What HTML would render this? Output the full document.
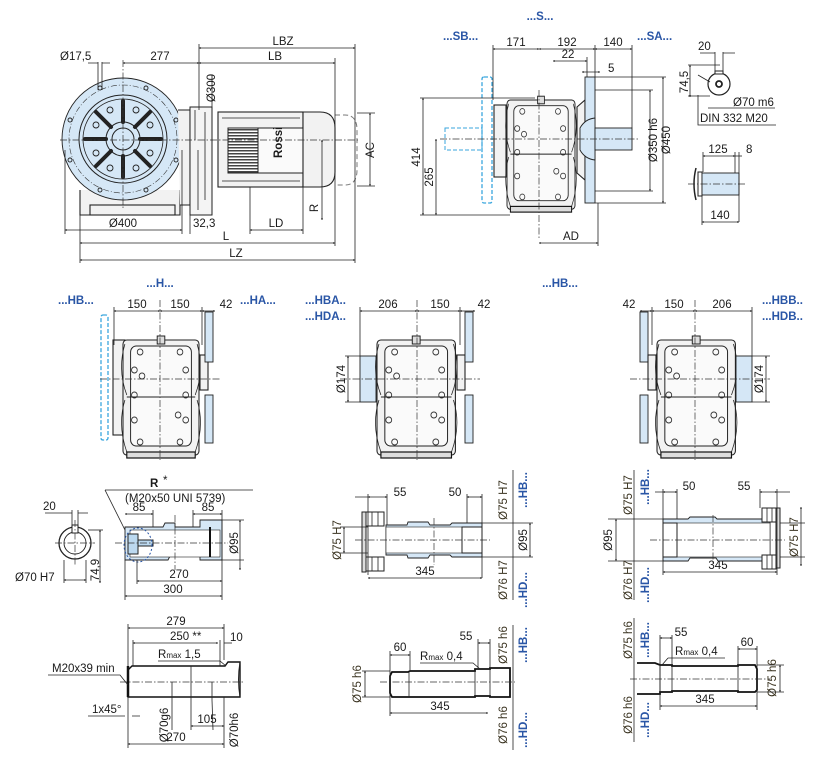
<!DOCTYPE html>
<html><head><meta charset="utf-8"><style>
html,body{margin:0;padding:0;background:#fff}
svg{display:block}
text{font-family:"Liberation Sans",sans-serif;font-size:11.5px;fill:#1a1a1a}
.b{fill:#2a56a6;font-weight:bold}
.o{fill:#3a3320}
.ln{stroke:#222;stroke-width:0.8;fill:none}
.dim{stroke:#222;stroke-width:0.8;fill:none;marker-start:url(#a);marker-end:url(#a)}
.cl{stroke:#333;stroke-width:0.7;stroke-dasharray:7 2 1.5 2;fill:none}
.bl{fill:#d5e7f6;stroke:#222;stroke-width:0.9}
.bd{fill:none;stroke:#3aa6de;stroke-width:1.3;stroke-dasharray:4 2}
.g{fill:#f2f2f2;stroke:#222;stroke-width:1.1}
</style></head><body>
<svg width="824" height="761" viewBox="0 0 824 761" xmlns="http://www.w3.org/2000/svg">
<defs>
<marker id="a" viewBox="0 0 10 10" refX="5" refY="5" markerWidth="5" markerHeight="5" orient="auto-start-reverse"><path d="M0,3 L5,5 L0,7" fill="none" stroke="#222" stroke-width="1"/></marker>
<pattern id="st" width="3" height="3" patternUnits="userSpaceOnUse"><rect width="3" height="3" fill="#fff"/><rect width="3" height="1.5" fill="#444"/></pattern>
<g id="gb">
<rect x="0" y="0" width="80" height="115" class="g" rx="4"/>
<rect x="8" y="6" width="64" height="100" rx="6" fill="#fafafa" stroke="#222" stroke-width="1"/>
<path d="M2,4 Q-6,30 4,55 M78,4 Q86,30 76,55 M2,60 Q-6,85 4,112 M78,60 Q86,85 76,112" class="ln" stroke-width="1.5"/>
<rect x="4" y="112" width="72" height="6" fill="#ddd" stroke="#111" stroke-width="1.2"/>
<rect x="36" y="-4" width="8" height="8" fill="#ddd" stroke="#222"/>
<g fill="none" stroke="#333" stroke-width="0.9">
<circle cx="18" cy="12" r="3"/><circle cx="60" cy="12" r="3"/><circle cx="12" cy="30" r="3"/><circle cx="66" cy="30" r="3"/><circle cx="20" cy="36" r="3"/>
<circle cx="12" cy="55" r="3"/><circle cx="66" cy="55" r="3"/><circle cx="58" cy="75" r="3"/><circle cx="12" cy="80" r="3"/><circle cx="66" cy="80" r="3"/>
<circle cx="18" cy="102" r="3"/><circle cx="60" cy="102" r="3"/></g>
<line x1="4" y1="57" x2="76" y2="57" stroke="#222" stroke-width="1"/>
</g>
</defs>

<!-- ===== TOP LEFT: motor view ===== -->
<path d="M80,190 L80,215 L180,215 L180,190" class="g"/>
<rect x="90" y="205" width="85" height="10" class="g"/>
<circle cx="123" cy="139" r="61" class="bl"/>
<circle cx="123" cy="139" r="54" fill="none" stroke="#333" stroke-width="0.6" stroke-dasharray="6 2 1 2"/>
<circle cx="123" cy="139" r="44" fill="none" stroke="#222" stroke-width="1"/>
<circle cx="123" cy="139" r="40" fill="none" stroke="#222" stroke-width="0.8"/>
<circle cx="123" cy="139" r="17" fill="#d5e7f6" stroke="#222" stroke-width="1"/>
<circle cx="123" cy="139" r="11" fill="none" stroke="#222" stroke-width="1"/>
<g stroke="#222" stroke-width="4" stroke-linecap="round">
<line x1="123" y1="101" x2="123" y2="122"/><line x1="123" y1="156" x2="123" y2="177"/>
<line x1="96" y1="112" x2="111" y2="127"/><line x1="150" y1="112" x2="135" y2="127"/>
<line x1="96" y1="166" x2="111" y2="151"/><line x1="150" y1="166" x2="135" y2="151"/>
<line x1="85" y1="139" x2="106" y2="139"/><line x1="140" y1="139" x2="161" y2="139"/></g>
<g fill="none" stroke="#222" stroke-width="0.9">
<circle cx="110" cy="110" r="3"/><circle cx="136" cy="110" r="3"/><circle cx="96" cy="125" r="3"/><circle cx="150" cy="125" r="3"/>
<circle cx="96" cy="153" r="3"/><circle cx="150" cy="153" r="3"/><circle cx="110" cy="168" r="3"/><circle cx="136" cy="168" r="3"/>
<circle cx="100" cy="88" r="2"/><circle cx="146" cy="88" r="2"/><circle cx="70" cy="120" r="2"/><circle cx="176" cy="120" r="2"/><circle cx="70" cy="160" r="2"/><circle cx="176" cy="160" r="2"/><circle cx="100" cy="190" r="2"/><circle cx="146" cy="190" r="2"/></g>
<path d="M178,110 L190,110 L190,205 L180,205" class="g"/>
<rect x="190" y="107" width="22" height="108" fill="#f4f4f4" stroke="#222"/>
<path d="M195,110 L195,140 M205,112 L205,200 M198,150 L198,210" class="ln"/>
<rect x="218" y="112" width="85" height="75" class="g"/>
<path d="M222,118 L300,118 M222,181 L300,181" class="ln"/>
<rect x="228" y="128" width="30" height="45" fill="url(#st)" stroke="#222"/>
<rect x="258" y="128" width="45" height="45" fill="#fafafa" stroke="#222"/>
<text x="282" y="158" font-size="6" font-weight="bold" transform="rotate(-90 282 158)">Rossi</text>
<path d="M303,112 L320,112 Q335,112 335,128 L335,172 Q335,187 320,187 L303,187 Z" class="g"/>
<path d="M335,115 L345,115 Q357,115 357,130 L357,170 Q357,185 345,185 L335,185" fill="none" stroke="#777" stroke-dasharray="5 3"/>
<line x1="60" y1="140" x2="360" y2="140" class="cl"/>
<line x1="123" y1="60" x2="123" y2="210" class="cl"/>
<line x1="199" y1="48" x2="355" y2="48" class="dim"/><text x="283" y="45" text-anchor="middle">LBZ</text>
<line x1="199" y1="63" x2="335" y2="63" class="dim"/><text x="275" y="60" text-anchor="middle">LB</text>
<line x1="123" y1="63" x2="199" y2="63" class="dim"/><text x="160" y="60" text-anchor="middle">277</text>
<text x="60" y="60">Ø17,5</text>
<path d="M98,62 L98,90 M102,62 L102,90 M88,63 L98,63 M102,63 L110,63" class="ln"/>
<line x1="199" y1="44" x2="199" y2="110" class="ln"/>
<line x1="335" y1="58" x2="335" y2="246" class="ln"/><line x1="355" y1="44" x2="355" y2="263" class="ln"/>
<line x1="65" y1="230" x2="182" y2="230" class="dim"/><text x="123" y="227" text-anchor="middle">Ø400</text>
<line x1="65" y1="150" x2="65" y2="234" class="ln"/><line x1="182" y1="150" x2="182" y2="234" class="ln"/>
<text x="193" y="227">32,3</text><line x1="190" y1="215" x2="190" y2="234" class="ln"/>
<line x1="250" y1="230" x2="303" y2="230" class="dim"/><text x="276" y="227" text-anchor="middle">LD</text>
<line x1="250" y1="187" x2="250" y2="234" class="ln"/><line x1="303" y1="187" x2="303" y2="234" class="ln"/>
<line x1="80" y1="243" x2="335" y2="243" class="dim"/><text x="226" y="240" text-anchor="middle">L</text>
<line x1="80" y1="260" x2="355" y2="260" class="dim"/><text x="236" y="257" text-anchor="middle">LZ</text>
<line x1="80" y1="215" x2="80" y2="263" class="ln"/>
<line x1="370" y1="113" x2="370" y2="186" class="dim"/><text x="374" y="150" text-anchor="middle" transform="rotate(-90 374 150)">AC</text>
<line x1="357" y1="113" x2="375" y2="113" class="ln"/><line x1="357" y1="186" x2="375" y2="186" class="ln"/>
<line x1="322" y1="140" x2="322" y2="220" class="dim"/><text x="318" y="208" text-anchor="middle" transform="rotate(-90 318 208)">R</text>
<line x1="212" y1="75" x2="212" y2="215" class="ln"/><text x="215" y="88" text-anchor="middle" transform="rotate(-90 215 88)">Ø300</text>

<!-- ===== TOP RIGHT: S view ===== -->
<text x="540" y="20" class="b" text-anchor="middle">...S...</text>
<text x="443" y="40" class="b">...SB...</text><text x="637" y="40" class="b">...SA...</text>
<rect x="445" y="128" width="37" height="22" fill="none" stroke="#3aa6de" stroke-dasharray="4 2"/>
<rect x="482" y="77" width="10" height="126" class="bd" rx="2"/>
<rect x="494" y="105" width="12" height="72" class="g"/>
<use href="#gb" transform="translate(507 100) scale(0.85 0.95)"/>
<path d="M577,107 L585,100 L585,180 L577,173 Z" class="g"/>
<rect x="585" y="77" width="10" height="126" class="bl"/>
<path d="M580,128 Q585,119 595,118 L595,160 Q585,159 580,150 Z" class="bl"/>
<rect x="595" y="128" width="37" height="22" class="bl"/>
<line x1="440" y1="139" x2="640" y2="139" class="cl"/><line x1="539" y1="90" x2="539" y2="240" class="cl"/>
<line x1="493" y1="49" x2="539" y2="49" class="dim"/><text x="516" y="46" text-anchor="middle">171</text>
<line x1="539" y1="49" x2="595" y2="49" class="dim"/><text x="567" y="46" text-anchor="middle">192</text>
<line x1="595" y1="49" x2="632" y2="49" class="dim"/><text x="613" y="46" text-anchor="middle">140</text>
<line x1="493" y1="45" x2="493" y2="100" class="ln"/><line x1="595" y1="45" x2="595" y2="77" class="ln"/><line x1="632" y1="45" x2="632" y2="128" class="ln"/>
<line x1="553" y1="61" x2="587" y2="61" class="dim"/><text x="568" y="58" text-anchor="middle">22</text>
<line x1="582" y1="72" x2="600" y2="72" class="dim"/><text x="608" y="72">5</text>
<line x1="587" y1="57" x2="587" y2="77" class="ln"/>
<line x1="423" y1="98" x2="423" y2="215" class="dim"/><text x="420" y="157" text-anchor="middle" transform="rotate(-90 420 157)">414</text>
<line x1="436" y1="139" x2="436" y2="215" class="dim"/><text x="433" y="177" text-anchor="middle" transform="rotate(-90 433 177)">265</text>
<line x1="420" y1="98" x2="535" y2="98" class="ln"/><line x1="420" y1="215" x2="510" y2="215" class="ln"/>
<line x1="650" y1="90" x2="650" y2="191" class="dim"/><text x="657" y="140" text-anchor="middle" transform="rotate(-90 657 140)">Ø350 h6</text>
<line x1="663" y1="77" x2="663" y2="203" class="dim"/><text x="670" y="140" text-anchor="middle" transform="rotate(-90 670 140)">Ø450</text>
<line x1="595" y1="90" x2="653" y2="90" class="ln"/><line x1="595" y1="191" x2="653" y2="191" class="ln"/>
<line x1="595" y1="77" x2="666" y2="77" class="ln"/><line x1="595" y1="203" x2="666" y2="203" class="ln"/>
<line x1="539" y1="243" x2="598" y2="243" class="dim"/><text x="571" y="240" text-anchor="middle">AD</text>
<line x1="598" y1="203" x2="598" y2="246" class="ln"/>
<circle cx="719" cy="84" r="11" fill="#fff" stroke="#222" stroke-width="1.2"/>
<circle cx="719" cy="84" r="3" fill="#fff" stroke="#222" stroke-width="1.8"/>
<rect x="715" y="71" width="8" height="3" fill="#fff" stroke="#222"/>
<line x1="715" y1="52" x2="715" y2="72" class="ln"/><line x1="723" y1="52" x2="723" y2="72" class="ln"/>
<path d="M700,53 L715,53 M723,53 L735,53" class="ln"/><text x="698" y="50">20</text>
<line x1="690" y1="65" x2="690" y2="97" class="dim"/><text x="688" y="82" text-anchor="middle" transform="rotate(-90 688 82)">74,5</text>
<path d="M688,65 L720,65 M688,96 L710,96" class="ln"/>
<line x1="708" y1="108" x2="775" y2="108" class="ln"/><text x="733" y="106">Ø70 m6</text>
<path d="M698,75 L710,82 M698,95 L698,125 L776,125" class="ln"/><text x="700" y="122">DIN 332 M20</text>
<path d="M696,168 Q692,184 696,200" fill="none" stroke="#222" stroke-width="1.5"/>
<rect x="698" y="172" width="4" height="24" fill="#fff" stroke="#222"/>
<rect x="702" y="173" width="37" height="22" class="bl"/>
<line x1="688" y1="184" x2="745" y2="184" class="cl"/>
<line x1="703" y1="156" x2="735" y2="156" class="dim"/><text x="718" y="153" text-anchor="middle">125</text>
<line x1="735" y1="156" x2="742" y2="156" class="ln"/><text x="746" y="153">8</text>
<line x1="703" y1="152" x2="703" y2="172" class="ln"/><line x1="735" y1="152" x2="735" y2="173" class="ln"/><line x1="739" y1="152" x2="739" y2="222" class="ln"/>
<line x1="702" y1="222" x2="739" y2="222" class="dim"/><text x="720" y="219" text-anchor="middle">140</text><line x1="702" y1="196" x2="702" y2="225" class="ln"/>

<!-- ===== MIDDLE: H views ===== -->
<text x="160" y="287" class="b" text-anchor="middle">...H...</text>
<text x="560" y="287" class="b" text-anchor="middle">...HB...</text>
<text x="58" y="304" class="b">...HB...</text><text x="240" y="304" class="b">...HA...</text>
<text x="305" y="304" class="b">...HBA..</text><text x="305" y="320" class="b">...HDA..</text>
<text x="762" y="304" class="b">...HBB..</text><text x="762" y="320" class="b">...HDB..</text>
<rect x="101" y="315" width="7" height="125" class="bd" rx="2"/>
<rect x="113" y="340" width="12" height="95" class="g"/>
<use href="#gb" transform="translate(123 340) scale(0.95 1)"/>
<rect x="200" y="355" width="8" height="35" class="g"/>
<rect x="205" y="312" width="8" height="50" class="bl"/><rect x="205" y="395" width="8" height="48" class="bl"/>
<line x1="100" y1="379" x2="220" y2="379" class="cl"/><line x1="160" y1="300" x2="160" y2="460" class="cl"/>
<line x1="114" y1="311" x2="160" y2="311" class="dim"/><text x="137" y="308" text-anchor="middle">150</text>
<line x1="160" y1="311" x2="202" y2="311" class="dim"/><text x="180" y="308" text-anchor="middle">150</text>
<line x1="202" y1="311" x2="215" y2="311" class="dim"/><text x="226" y="308" text-anchor="middle">42</text>
<line x1="114" y1="307" x2="114" y2="345" class="ln"/><line x1="202" y1="307" x2="202" y2="345" class="ln"/>
<rect x="360" y="356" width="16" height="46" class="bl"/>
<use href="#gb" transform="translate(377 340) scale(0.98 1)"/>
<rect x="457" y="355" width="8" height="35" class="g"/>
<rect x="465" y="312" width="8" height="50" class="bl"/><rect x="465" y="395" width="8" height="48" class="bl"/>
<line x1="340" y1="379" x2="480" y2="379" class="cl"/><line x1="417" y1="300" x2="417" y2="460" class="cl"/>
<line x1="360" y1="311" x2="417" y2="311" class="dim"/><text x="388" y="308" text-anchor="middle">206</text>
<line x1="417" y1="311" x2="460" y2="311" class="dim"/><text x="440" y="308" text-anchor="middle">150</text>
<line x1="460" y1="311" x2="475" y2="311" class="dim"/><text x="484" y="308" text-anchor="middle">42</text>
<line x1="360" y1="307" x2="360" y2="356" class="ln"/><line x1="460" y1="307" x2="460" y2="345" class="ln"/>
<line x1="348" y1="356" x2="348" y2="402" class="dim"/><text x="345" y="379" text-anchor="middle" transform="rotate(-90 345 379)">Ø174</text>
<path d="M345,356 L360,356 M345,402 L360,402" class="ln"/>
<rect x="640" y="312" width="8" height="50" class="bl"/><rect x="640" y="395" width="8" height="48" class="bl"/>
<rect x="648" y="355" width="8" height="35" class="g"/>
<use href="#gb" transform="translate(657 340) scale(0.98 1)"/>
<rect x="736" y="356" width="16" height="46" class="bl"/>
<line x1="630" y1="379" x2="770" y2="379" class="cl"/><line x1="695" y1="300" x2="695" y2="460" class="cl"/>
<line x1="640" y1="311" x2="652" y2="311" class="dim"/><text x="629" y="308" text-anchor="middle">42</text>
<line x1="652" y1="311" x2="695" y2="311" class="dim"/><text x="674" y="308" text-anchor="middle">150</text>
<line x1="695" y1="311" x2="752" y2="311" class="dim"/><text x="722" y="308" text-anchor="middle">206</text>
<line x1="652" y1="307" x2="652" y2="345" class="ln"/><line x1="752" y1="307" x2="752" y2="356" class="ln"/>
<line x1="766" y1="356" x2="766" y2="402" class="dim"/><text x="763" y="379" text-anchor="middle" transform="rotate(-90 763 379)">Ø174</text>
<path d="M752,356 L770,356 M752,402 L770,402" class="ln"/>

<!-- ===== BOTTOM LEFT ===== -->
<text x="150" y="487" font-size="13" font-weight="bold">R</text><text x="163" y="484">*</text>
<line x1="105" y1="490" x2="253" y2="490" class="ln"/>
<text x="125" y="502">(M20x50 UNI 5739)</text>
<line x1="105" y1="490" x2="125" y2="530" class="ln"/>
<circle cx="75" cy="543" r="16" fill="none" stroke="#222" stroke-width="1.3"/>
<circle cx="75" cy="543" r="11" fill="none" stroke="#222" stroke-width="0.9"/>
<rect x="72" y="525" width="6" height="8" fill="#fff" stroke="#222"/>
<path d="M45,513 L72,513 M78,513 L88,513 M72,510 L72,527 M78,510 L78,527" class="ln"/><text x="43" y="510">20</text>
<line x1="55" y1="543" x2="95" y2="543" class="cl"/><line x1="75" y1="520" x2="75" y2="565" class="cl"/>
<line x1="100" y1="530" x2="100" y2="583" class="dim"/><text x="99" y="570" text-anchor="middle" transform="rotate(-90 99 570)">74,9</text>
<path d="M88,530 L103,530" class="ln"/>
<line x1="64" y1="580" x2="86" y2="580" class="dim"/><text x="15" y="581">Ø70 H7</text><line x1="64" y1="560" x2="64" y2="583" class="ln"/><line x1="86" y1="560" x2="86" y2="583" class="ln"/>
<path d="M125,527 L163,527 L165,523 L175,523 L175,527 L200,527 L200,520 L222,520 L222,560 L200,560 L200,556 L170,556 L168,560 L125,560 Z" class="bl"/>
<rect x="130" y="530" width="90" height="27" fill="#fff" stroke="#222" stroke-width="0.6"/>
<line x1="210" y1="527" x2="210" y2="557" stroke="#111" stroke-width="2"/>
<rect x="128" y="534" width="10" height="20" fill="#bcd9f0" stroke="#222"/><rect x="138" y="540" width="15" height="6" fill="#bcd9f0" stroke="#222"/>
<ellipse cx="138" cy="545" rx="14" ry="17" fill="none" stroke="#2a56a6" stroke-dasharray="2 2"/>
<line x1="115" y1="543" x2="228" y2="543" class="cl"/><line x1="175" y1="515" x2="175" y2="570" class="cl"/>
<line x1="125" y1="514" x2="153" y2="514" class="dim"/><text x="139" y="511" text-anchor="middle">85</text>
<line x1="193" y1="514" x2="222" y2="514" class="dim"/><text x="208" y="511" text-anchor="middle">85</text>
<line x1="153" y1="510" x2="153" y2="527" class="ln"/><line x1="193" y1="510" x2="193" y2="527" class="ln"/><line x1="222" y1="510" x2="222" y2="600" class="ln"/>
<line x1="240" y1="520" x2="240" y2="570" class="dim"/><text x="238" y="543" text-anchor="middle" transform="rotate(-90 238 543)">Ø95</text>
<path d="M222,520 L244,520 M222,560 L244,560" class="ln"/>
<line x1="137" y1="581" x2="222" y2="581" class="dim"/><text x="179" y="578" text-anchor="middle">270</text><line x1="137" y1="560" x2="137" y2="584" class="ln"/>
<line x1="125" y1="596" x2="222" y2="596" class="dim"/><text x="173" y="593" text-anchor="middle">300</text><line x1="125" y1="560" x2="125" y2="600" class="ln"/>
<path d="M128,670 L132,666 L225,666 L228,662 L240,662 L240,697 L128,697 Z" fill="#fff" stroke="#111" stroke-width="1.4"/>
<path d="M128,666 L128,697" stroke="#111" stroke-width="2.5"/>
<path d="M240,662 Q237,680 240,697" fill="none" stroke="#222"/>
<line x1="120" y1="682" x2="245" y2="682" class="cl"/>
<path d="M191,666 L191,730 M172,682 L172,730 M212,682 L212,700 L213,730" class="ln"/>
<line x1="128" y1="628" x2="224" y2="628" class="dim"/><text x="176" y="625" text-anchor="middle">279</text>
<line x1="133" y1="643" x2="218" y2="643" class="dim"/><text x="170" y="640">250 **</text>
<line x1="224" y1="643" x2="232" y2="643" class="ln"/><text x="230" y="641">10</text>
<path d="M128,624 L128,666 M133,640 L133,666 M224,624 L224,660 M220,640 L220,666" class="ln"/>
<path d="M158,661 L220,661 L226,666" class="ln"/><text x="158" y="658" font-size="9">R<tspan font-size="8">max</tspan> <tspan font-size="11.5">1,5</tspan></text>
<path d="M48,675 L120,675 L128,685" class="ln"/><text x="52" y="672">M20x39 min</text>
<path d="M88,716 L125,716 M132,716 L140,716" class="ln"/><text x="92" y="713">1x45°</text>
<text x="168" y="725" text-anchor="middle" transform="rotate(-90 168 725)">Ø70g6</text>
<line x1="191" y1="726" x2="224" y2="726" class="dim"/><text x="207" y="723" text-anchor="middle">105</text>
<text x="238" y="730" text-anchor="middle" transform="rotate(-90 238 730)">Ø70h6</text>
<line x1="128" y1="744" x2="224" y2="744" class="dim"/><text x="176" y="741" text-anchor="middle">270</text>
<line x1="128" y1="697" x2="128" y2="748" class="ln"/><line x1="224" y1="697" x2="224" y2="748" class="ln"/>

<!-- hollow shaft left -->
<rect x="362" y="512" width="4" height="60" fill="#ddd" stroke="#222"/>
<rect x="366" y="512" width="18" height="14" fill="#fff" stroke="#222"/><rect x="366" y="557" width="18" height="14" fill="#fff" stroke="#222"/>
<path d="M372,512 L372,526 M378,512 L378,526 M372,557 L372,571 M378,557 L378,571" class="ln"/>
<path d="M386,525 L407,525 L408,522 L428,522 L430,525 L450,525 L452,523 L482,523 L482,557 L452,557 L450,555 L430,555 L428,558 L408,558 L407,555 L386,555 Z" class="bl"/>
<rect x="386" y="527" width="96" height="26" fill="#fff" stroke="#222" stroke-width="0.6"/>
<rect x="462" y="527" width="20" height="26" fill="#fff" stroke="#222"/>
<line x1="355" y1="540" x2="490" y2="540" class="cl"/><line x1="434" y1="518" x2="434" y2="565" class="cl"/>
<line x1="368" y1="497" x2="387" y2="497" class="dim"/><text x="400" y="496" text-anchor="middle">55</text>
<line x1="467" y1="497" x2="482" y2="497" class="dim"/><text x="455" y="496" text-anchor="middle">50</text>
<path d="M355,497 L368,497 M368,494 L368,575 M387,494 L387,525 M467,494 L467,523 M482,494 L482,578" class="ln"/>
<line x1="344" y1="527" x2="344" y2="553" class="dim"/><text x="341" y="540" text-anchor="middle" transform="rotate(-90 341 540)" class="o">Ø75 H7</text>
<path d="M340,527 L368,527 M340,553 L368,553" class="ln"/>
<line x1="368" y1="578" x2="482" y2="578" class="dim"/><text x="425" y="575" text-anchor="middle">345</text>
<line x1="513" y1="470" x2="513" y2="600" class="ln"/>
<path d="M482,523 L533,523 M482,557 L533,557" class="ln"/>
<line x1="530" y1="523" x2="530" y2="557" class="dim"/><text x="527" y="540" text-anchor="middle" transform="rotate(-90 527 540)">Ø95</text>
<text x="507" y="500" text-anchor="middle" transform="rotate(-90 507 500)" class="o">Ø75 H7</text>
<text x="507" y="580" text-anchor="middle" transform="rotate(-90 507 580)" class="o">Ø76 H7</text>
<text x="527" y="490" text-anchor="middle" transform="rotate(-90 527 490)" class="b">...HB...</text>
<text x="527" y="590" text-anchor="middle" transform="rotate(-90 527 590)" class="b">...HD...</text>
<!-- right hollow -->
<path d="M663,519 L688,519 L690,517 L715,517 L717,519 L770,519 L770,561 L718,561 L716,558 L690,558 L688,561 L663,561 Z" class="bl"/>
<rect x="663" y="523" width="107" height="34" fill="#fff" stroke="#222" stroke-width="0.6"/>
<rect x="663" y="523" width="14" height="34" fill="#fff" stroke="#222"/>
<rect x="776" y="508" width="4" height="60" fill="#ddd" stroke="#222"/>
<rect x="762" y="508" width="14" height="14" fill="#fff" stroke="#222"/><rect x="762" y="555" width="14" height="14" fill="#fff" stroke="#222"/>
<path d="M767,508 L767,522 M772,508 L772,522 M767,555 L767,569 M772,555 L772,569" class="ln"/>
<line x1="650" y1="540" x2="785" y2="540" class="cl"/><line x1="713" y1="515" x2="713" y2="565" class="cl"/>
<line x1="663" y1="492" x2="677" y2="492" class="dim"/><text x="689" y="490" text-anchor="middle">50</text>
<line x1="760" y1="492" x2="777" y2="492" class="dim"/><text x="744" y="490" text-anchor="middle">55</text>
<path d="M655,492 L663,492 M777,492 L790,492 M663,489 L663,575 M677,489 L677,519 M760,489 L760,508 M777,489 L777,575" class="ln"/>
<line x1="663" y1="572" x2="777" y2="572" class="dim"/><text x="718" y="569" text-anchor="middle">345</text>
<line x1="634" y1="470" x2="634" y2="600" class="ln"/>
<path d="M608,519 L663,519 M608,561 L663,561" class="ln"/>
<line x1="616" y1="519" x2="616" y2="561" class="dim"/><text x="612" y="540" text-anchor="middle" transform="rotate(-90 612 540)">Ø95</text>
<text x="632" y="495" text-anchor="middle" transform="rotate(-90 632 495)" class="o">Ø75 H7</text>
<text x="632" y="580" text-anchor="middle" transform="rotate(-90 632 580)" class="o">Ø76 H7</text>
<text x="649" y="487" text-anchor="middle" transform="rotate(-90 649 487)" class="b">...HB...</text>
<text x="649" y="585" text-anchor="middle" transform="rotate(-90 649 585)" class="b">...HD...</text>
<line x1="801" y1="507" x2="801" y2="566" class="dim"/><text x="798" y="537" text-anchor="middle" transform="rotate(-90 798 537)" class="o">Ø75 H7</text>
<path d="M780,523 L805,523 M780,557 L805,557" class="ln"/>

<!-- bottom solid shafts -->
<path d="M392,672 L408,672 L410,671 L475,671 L475,669 L490,669 L490,668 L510,668 L510,697 L490,697 L490,696 L475,696 L475,697 L410,697 L408,697 L392,697 L390,693 L390,676 Z" fill="#fff" stroke="#111" stroke-width="1.8"/>
<path d="M409,672 L409,697 M475,670 L475,697 M490,668 L490,697" class="ln"/>
<line x1="380" y1="682" x2="515" y2="682" class="cl"/>
<line x1="390" y1="655" x2="410" y2="655" class="dim"/><text x="400" y="651" text-anchor="middle">60</text>
<line x1="478" y1="643" x2="490" y2="643" class="dim"/><text x="466" y="640" text-anchor="middle">55</text>
<path d="M390,651 L390,716 M410,651 L410,672 M478,639 L478,668 M490,639 L490,668" class="ln"/>
<path d="M420,663 L473,663 L480,669" class="ln"/><text x="420" y="660" font-size="9">R<tspan font-size="8">max</tspan> <tspan font-size="11.5">0,4</tspan></text>
<line x1="365" y1="671" x2="365" y2="697" class="dim"/><text x="361" y="684" text-anchor="middle" transform="rotate(-90 361 684)" class="o">Ø75 h6</text>
<path d="M362,671 L390,671 M362,697 L390,697" class="ln"/>
<line x1="390" y1="713" x2="488" y2="713" class="dim"/><text x="440" y="710" text-anchor="middle">345</text>
<line x1="513" y1="625" x2="513" y2="750" class="ln"/>
<text x="507" y="645" text-anchor="middle" transform="rotate(-90 507 645)" class="o">Ø75 h6</text>
<text x="507" y="725" text-anchor="middle" transform="rotate(-90 507 725)" class="o">Ø76 h6</text>
<text x="527" y="645" text-anchor="middle" transform="rotate(-90 527 645)" class="b">...HB...</text>
<text x="527" y="730" text-anchor="middle" transform="rotate(-90 527 730)" class="b">...HD...</text>

<path d="M637,663 L655,663 L660,665 L672,665 L672,666 L738,666 L738,665 L755,665 L757,669 L757,690 L755,692 L738,692 L738,691 L672,691 L672,692 L660,692 L660,694 L637,694" fill="#fff" stroke="#111" stroke-width="1.8"/>
<path d="M660,665 L660,692 M672,665 L672,692 M738,665 L738,692" class="ln"/>
<line x1="630" y1="679" x2="770" y2="679" class="cl"/>
<line x1="660" y1="638" x2="672" y2="638" class="dim"/><text x="681" y="636" text-anchor="middle">55</text>
<line x1="738" y1="649" x2="757" y2="649" class="dim"/><text x="747" y="646" text-anchor="middle">60</text>
<path d="M660,635 L660,710 M672,635 L672,665 M738,646 L738,665 M757,646 L757,710" class="ln"/>
<path d="M668,658 L725,658 M668,658 L662,665" class="ln"/><text x="675" y="655" font-size="9">R<tspan font-size="8">max</tspan> <tspan font-size="11.5">0,4</tspan></text>
<line x1="660" y1="706" x2="757" y2="706" class="dim"/><text x="705" y="703" text-anchor="middle">345</text>
<line x1="634" y1="618" x2="634" y2="742" class="ln"/>
<text x="632" y="640" text-anchor="middle" transform="rotate(-90 632 640)" class="o">Ø75 h6</text>
<text x="632" y="715" text-anchor="middle" transform="rotate(-90 632 715)" class="o">Ø76 h6</text>
<text x="649" y="640" text-anchor="middle" transform="rotate(-90 649 640)" class="b">...HB...</text>
<text x="649" y="720" text-anchor="middle" transform="rotate(-90 649 720)" class="b">...HD...</text>
<line x1="780" y1="665" x2="780" y2="692" class="dim"/><text x="776" y="678" text-anchor="middle" transform="rotate(-90 776 678)" class="o">Ø75 h6</text>
<path d="M757,665 L784,665 M757,692 L784,692" class="ln"/>
</svg>
</body></html>
